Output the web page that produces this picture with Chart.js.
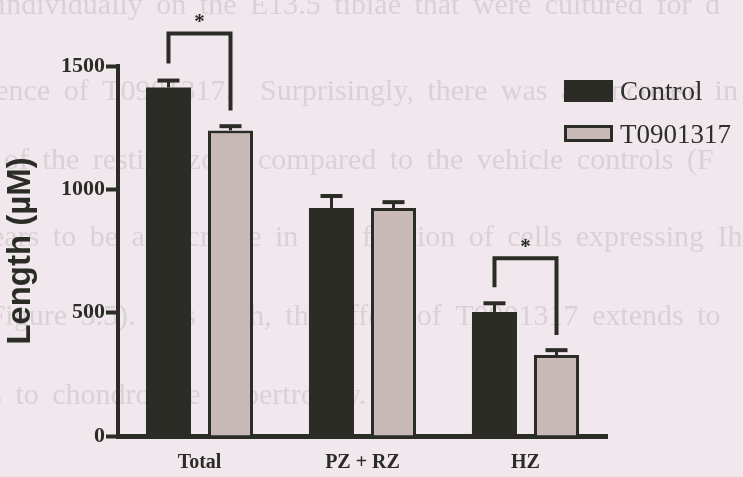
<!DOCTYPE html>
<html>
<head>
<meta charset="utf-8">
<script src="https://cdn.jsdelivr.net/npm/chart.js@4/dist/chart.umd.min.js"></script>
<style>
  html, body { margin: 0; padding: 0; background: #f0e8ed; }
  canvas { display: block; }
</style>
</head>
<body>
<canvas id="c" width="743" height="477"></canvas>
<script>
// Zone lengths (µM), mean ± SEM
const categories = ['Total', 'PZ + RZ', 'HZ'];
const seriesNames = ['Control', 'T0901317'];
const controlMean = [1413, 924, 503];
const controlSem = [28, 49, 35];
const treatedMean = [1239, 924, 328];
const treatedSem = [17, 24, 20];
const yTicks = [0, 500, 1000, 1500];

// Significance brackets: category index, leg ends and bar height (µM)
const sigCategory = [0, 2];
const sigLeftEnd = [1510, 603];
const sigRightEnd = [1320, 409];
const sigTop = [1632, 721];
const sigLabel = ['*', '*'];

// Running text of the page behind the figure
const pageText = [
  'individually on the E13.5 tibiae that were cultured for d',
  'in the presence of T0901317.  Surprisingly, there was an increase in',
  'in the length of the resting zone compared to the vehicle controls (F',
  'there appears to be a decrease in the fraction of cells expressing Ihh',
  'zones (Figure 3.5).  As such, the effect of T0901317 extends to',
  'growth zones, as well as to chondrocyte hypertrophy.'
];
const pageAnchor = ['E13.5', 'Surprisingly', 'compared', 'in the fraction', 'extends', 'hypertrophy'];

const INK = '#2a2c25';
const PALE = '#c9b9b9';

const pageLayout = { x: [250, 260, 258, 275, 592, 214], y: [14, 100, 169, 246, 325, 404] };

const backdrop = {
  id: 'backdrop',
  beforeDraw(chart) {
    const ctx = chart.ctx;
    ctx.save();
    ctx.fillStyle = '#f0e8ed';
    ctx.fillRect(0, 0, chart.width, chart.height);
    ctx.font = '30px "Liberation Serif"';
    if ('wordSpacing' in ctx) ctx.wordSpacing = '6px';
    ctx.fillStyle = '#dad1d7';
    ctx.textBaseline = 'alphabetic';
    ctx.textAlign = 'left';
    pageText.forEach((t, i) => {
      const k = t.indexOf(pageAnchor[i]);
      const x0 = pageLayout.x[i] - ctx.measureText(t.slice(0, k)).width;
      ctx.fillText(t, x0, pageLayout.y[i]);
    });
    ctx.restore();
  }
};

const errorBars = {
  id: 'errorBars',
  afterDatasetsDraw(chart) {
    const ctx = chart.ctx;
    const y = chart.scales.y;
    const means = [controlMean, treatedMean];
    const sems = [controlSem, treatedSem];
    ctx.save();
    ctx.strokeStyle = INK;
    ctx.lineCap = 'butt';
    chart.data.datasets.forEach((ds, i) => {
      chart.getDatasetMeta(i).data.forEach((bar, j) => {
        const top = y.getPixelForValue(means[i][j] + sems[i][j]);
        ctx.lineWidth = 3;
        ctx.beginPath();
        ctx.moveTo(bar.x, bar.y);
        ctx.lineTo(bar.x, top);
        ctx.stroke();
        ctx.lineWidth = 4;
        ctx.beginPath();
        ctx.moveTo(bar.x - 11, top);
        ctx.lineTo(bar.x + 11, top);
        ctx.stroke();
      });
    });
    ctx.restore();
  }
};

const brackets = {
  id: 'brackets',
  afterDatasetsDraw(chart) {
    const ctx = chart.ctx;
    const y = chart.scales.y;
    ctx.save();
    ctx.strokeStyle = INK;
    ctx.fillStyle = INK;
    ctx.lineWidth = 4;
    ctx.lineJoin = 'miter';
    sigCategory.forEach((c, k) => {
      const xl = chart.getDatasetMeta(0).data[c].x;
      const xr = chart.getDatasetMeta(1).data[c].x;
      const yt = y.getPixelForValue(sigTop[k]);
      ctx.beginPath();
      ctx.moveTo(xl, y.getPixelForValue(sigLeftEnd[k]));
      ctx.lineTo(xl, yt);
      ctx.lineTo(xr, yt);
      ctx.lineTo(xr, y.getPixelForValue(sigRightEnd[k]));
      ctx.stroke();
      ctx.font = 'bold 21px "Liberation Serif"';
      ctx.textAlign = 'center';
      ctx.textBaseline = 'alphabetic';
      ctx.fillText(sigLabel[k], (xl + xr) / 2, yt - 5);
    });
    ctx.restore();
  }
};

const legendBoxes = {
  id: 'legendBoxes',
  afterDraw(chart) {
    const ctx = chart.ctx;
    ctx.save();
    const boxes = [[564, 80, 49, 22], [564, 125, 49, 17]];
    const base = [100, 143];
    chart.data.datasets.forEach((ds, i) => {
      const [bx, by, bw, bh] = boxes[i];
      ctx.fillStyle = ds.borderColor;
      ctx.fillRect(bx, by, bw, bh);
      ctx.fillStyle = ds.backgroundColor;
      const b = ds.borderWidth;
      if (b) ctx.fillRect(bx + b, by + b, bw - 2 * b, bh - 2 * b);
      ctx.fillStyle = '#2e2e2a';
      ctx.font = '27px "Liberation Serif"';
      ctx.textAlign = 'left';
      ctx.textBaseline = 'alphabetic';
      ctx.fillText(ds.label, 620, base[i]);
    });
    ctx.restore();
  }
};

new Chart(document.getElementById('c'), {
  type: 'bar',
  data: {
    labels: categories,
    datasets: [
      { label: seriesNames[0], data: controlMean, backgroundColor: INK, borderColor: INK, borderWidth: 0 },
      { label: seriesNames[1], data: treatedMean, backgroundColor: PALE, borderColor: INK, borderWidth: 3, borderSkipped: 'bottom' }
    ]
  },
  options: {
    responsive: false,
    animation: false,
    devicePixelRatio: 1,
    datasets: { bar: { categoryPercentage: 0.761, barPercentage: 0.726 } },
    layout: { padding: { top: 66, right: 136, bottom: 0, left: 0 } },
    plugins: { legend: { display: false }, tooltip: { enabled: false } },
    scales: {
      x: {
        grid: { display: true, drawOnChartArea: false, drawTicks: false },
        border: { display: true, color: INK, width: 5 },
        ticks: { color: INK, font: { family: 'Liberation Serif', weight: 'bold', size: 20 }, padding: 15 },
        afterFit(s) { s.height = 41; }
      },
      y: {
        min: 0,
        max: 1500,
        afterBuildTicks(s) { s.ticks = yTicks.map(v => ({ value: v })); },
        grid: { drawOnChartArea: false, drawTicks: true, tickLength: 12, tickWidth: 4, tickColor: INK },
        border: { display: true, color: INK, width: 4 },
        ticks: {
          color: INK,
          font: { family: 'Liberation Serif', weight: 'bold', size: 22 },
          padding: 1,
          callback: v => String(v)
        },
        title: {
          display: true,
          text: 'Length (µM)',
          color: INK,
          font: { family: 'Liberation Sans', weight: 'bold', size: 33 },
          padding: { top: 1, bottom: 0 }
        },
        afterFit(s) { s.width = 118; }
      }
    }
  },
  plugins: [backdrop, errorBars, brackets, legendBoxes]
});
</script>
</body>
</html>
